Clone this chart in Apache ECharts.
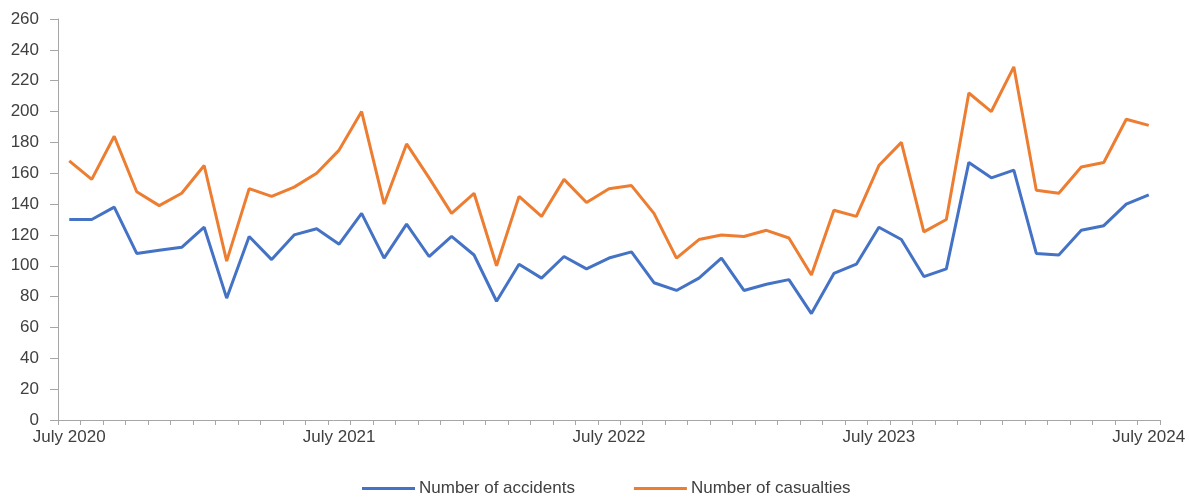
<!DOCTYPE html>
<html>
<head>
<meta charset="utf-8">
<script src="https://cdn.jsdelivr.net/npm/echarts@6/dist/echarts.min.js"></script>
<style>
  html, body { margin: 0; padding: 0; background: #fff; }
  #chart { width: 1189px; height: 497px; }
</style>
</head>
<body>
<div id="chart"></div>
<script>
// monthly, July 2020 .. July 2024
const monthNames = ["July", "August", "September", "October", "November", "December",
  "January", "February", "March", "April", "May", "June"];
const categories = [];
for (let i = 0; i < 49; i++) {
  const year = 2020 + Math.floor((i + 6) / 12);
  categories.push(monthNames[i % 12] + " " + year);
}

const accidents = [
  130, 130, 138, 108, 110, 112, 125, 79, 119, 104, 120, 124,
  114, 134, 105, 127, 106, 119, 107, 77, 101, 92, 106, 98,
  105, 109, 89, 84, 92, 105, 84, 88, 91, 69, 95, 101,
  125, 117, 93, 98, 167, 157, 162, 108, 107, 123, 126, 140,
  146
];
const casualties = [
  168, 156, 184, 148, 139, 147, 165, 103, 150, 145, 151, 160,
  175, 200, 140, 179, 157, 134, 147, 100, 145, 132, 156, 141,
  150, 152, 134, 105, 117, 120, 119, 123, 118, 94, 136, 132,
  165, 180, 122, 130, 212, 200, 229, 149, 147, 164, 167, 195,
  191
];

const seriesNames = ["Number of accidents", "Number of casualties"];
const seriesColors = ["#4472C4", "#ED7D31"];

const myChart = echarts.init(document.getElementById("chart"));
const axisColor = "#A6A6A6";
const textColor = "#404040";
const fontFamily = "'Liberation Sans', Arial, sans-serif";

myChart.setOption({
  animation: false,
  textStyle: { fontFamily },
  grid: { left: 58, right: 29, top: 19, bottom: 77, containLabel: false },
  legend: {
    left: 362,
    top: 480,
    padding: 0,
    icon: "rect",
    itemWidth: 53,
    itemHeight: 3,
    itemGap: 59,
    textStyle: { fontSize: 17, color: textColor, fontFamily, padding: [0, 0, 0, -1] },
    data: seriesNames,
  },
  xAxis: {
    type: "category",
    data: categories,
    boundaryGap: true,
    axisLine: { lineStyle: { color: axisColor, width: 1 } },
    axisTick: { show: true, interval: 0, length: 5, lineStyle: { color: axisColor } },
    axisLabel: {
      interval: 11,
      margin: 9,
      fontSize: 17,
      color: textColor,
      fontFamily,
    },
    splitLine: { show: false },
  },
  yAxis: {
    type: "value",
    min: 0,
    max: 260,
    interval: 20,
    axisLine: { show: true, lineStyle: { color: axisColor, width: 1 } },
    axisTick: { show: true, length: 8, lineStyle: { color: axisColor } },
    axisLabel: { margin: 19, fontSize: 17, color: textColor, fontFamily },
    splitLine: { show: false },
  },
  series: [
    {
      name: seriesNames[0],
      type: "line",
      data: accidents,
      symbol: "none",
      color: seriesColors[0],
      lineStyle: { width: 3, color: seriesColors[0] },
    },
    {
      name: seriesNames[1],
      type: "line",
      data: casualties,
      symbol: "none",
      color: seriesColors[1],
      lineStyle: { width: 3, color: seriesColors[1] },
    },
  ],
});
</script>
</body>
</html>
